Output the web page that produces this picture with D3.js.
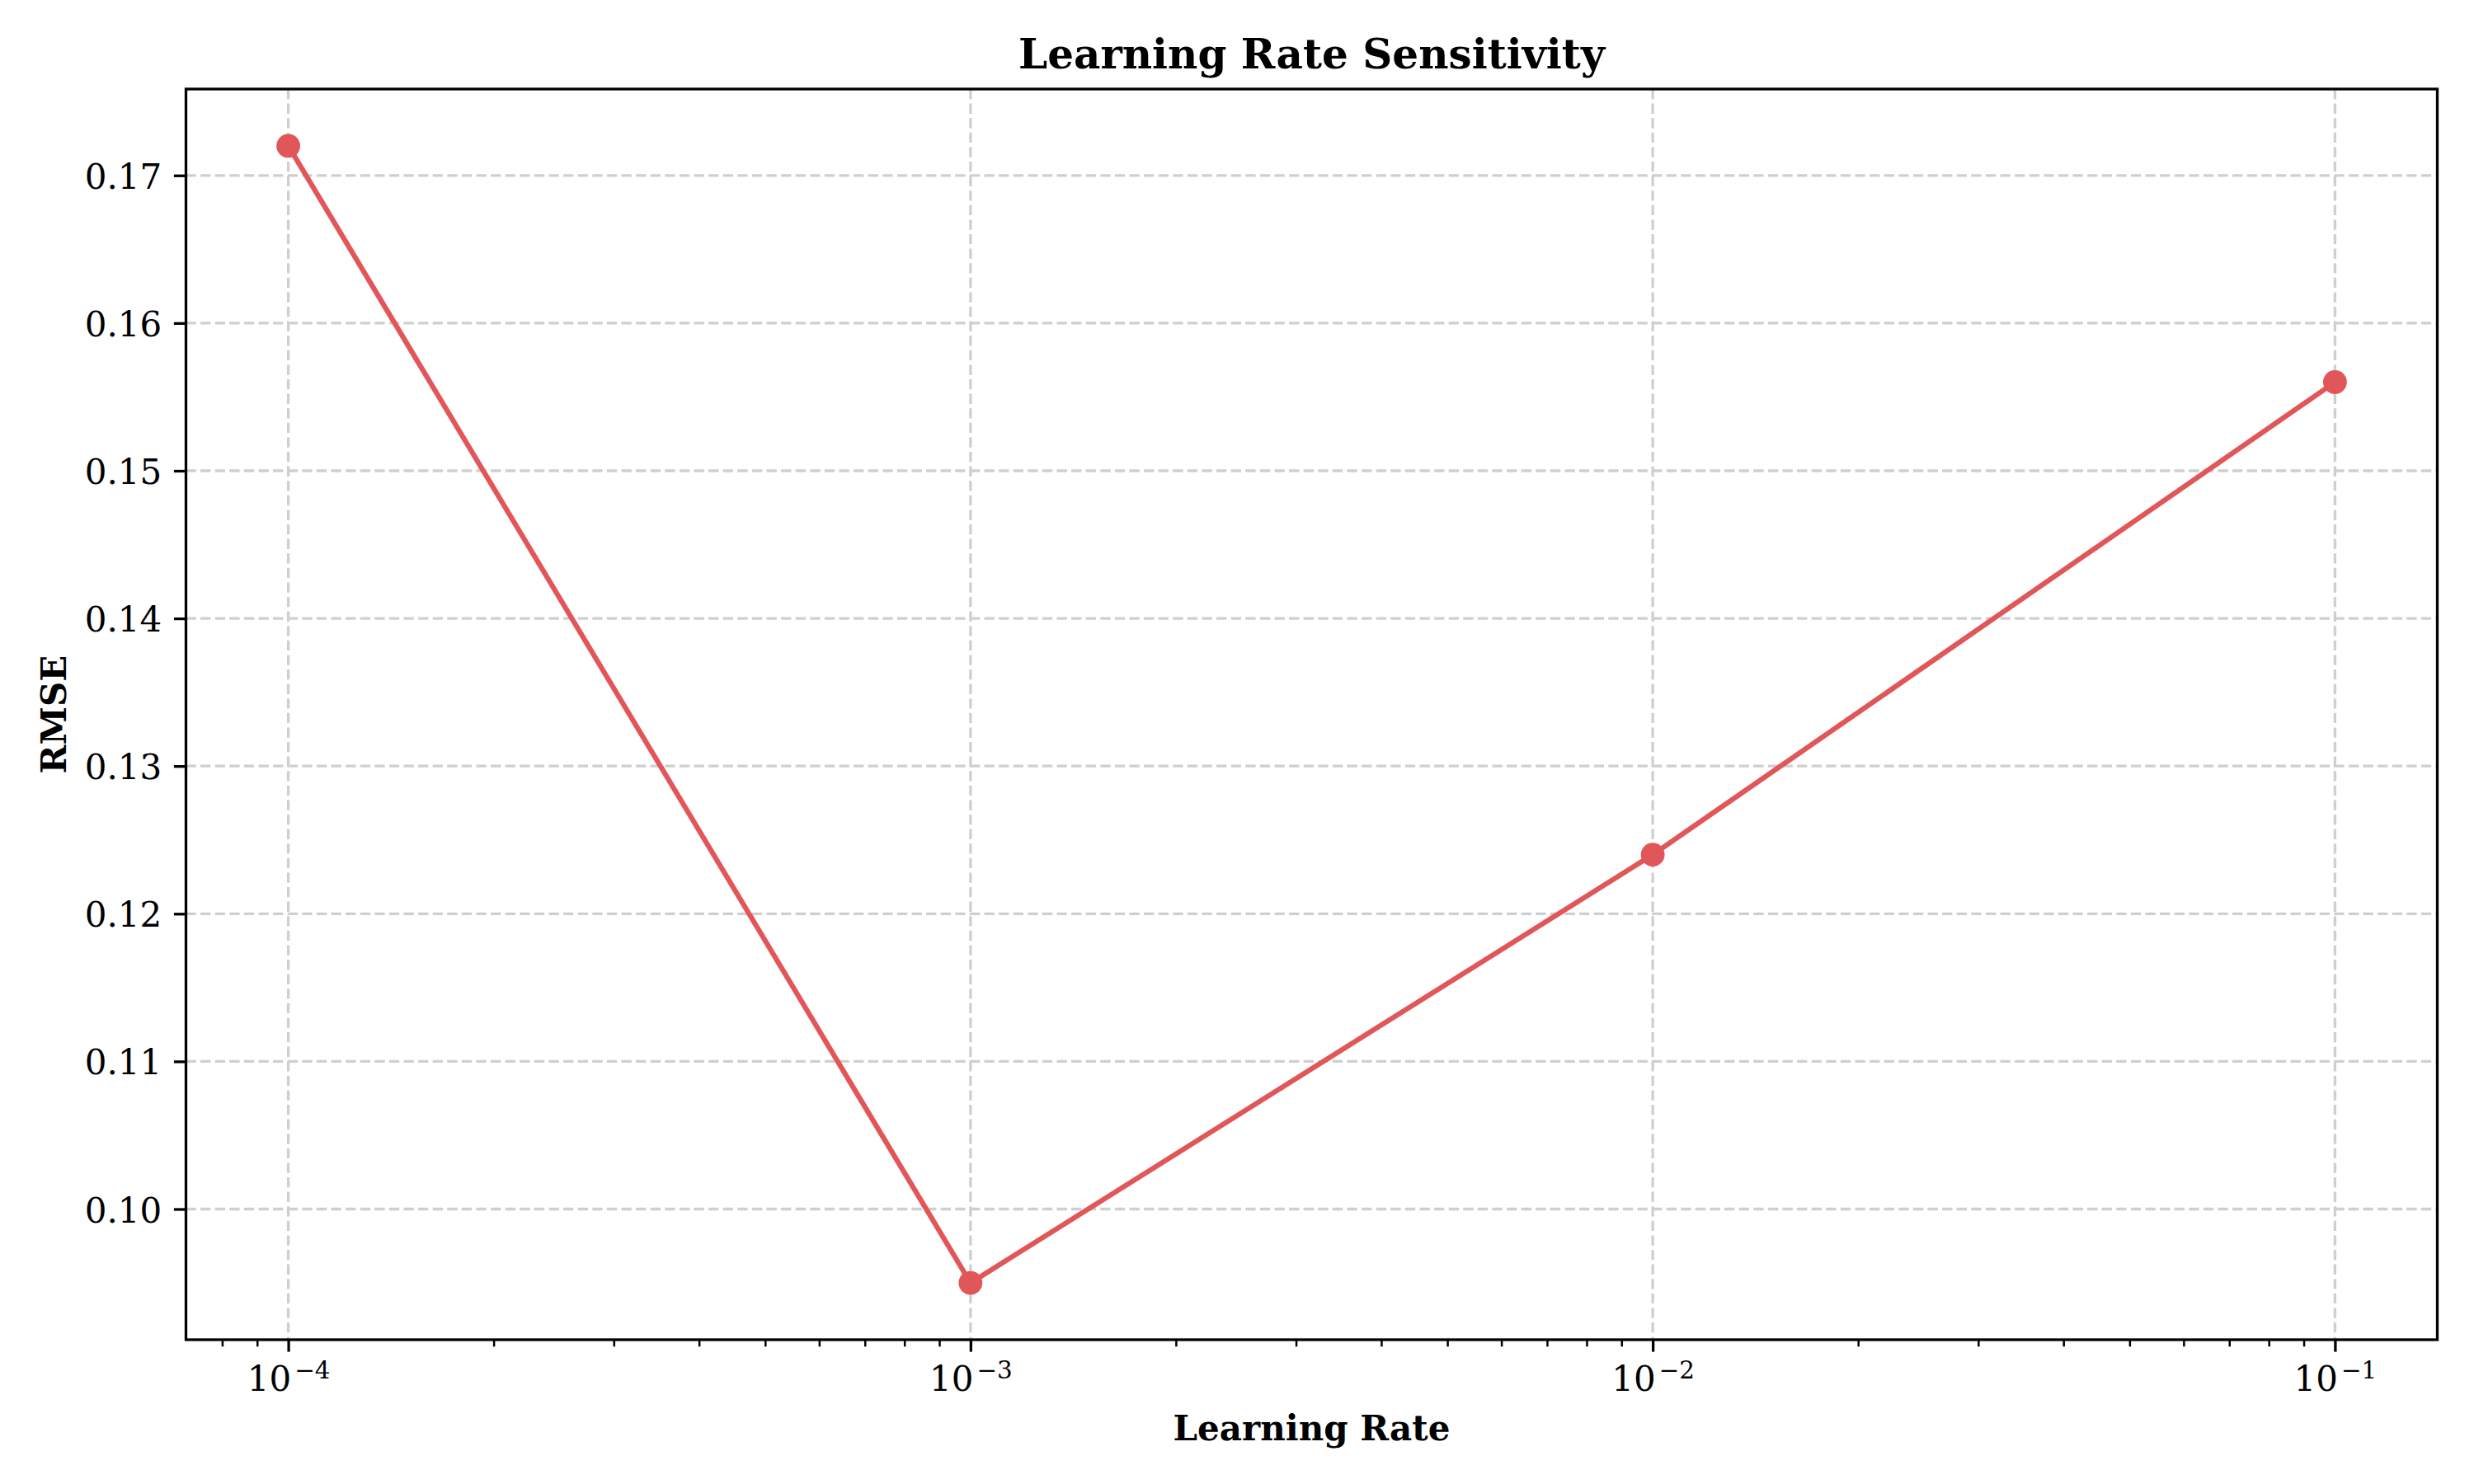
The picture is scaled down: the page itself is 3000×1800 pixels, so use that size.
<!DOCTYPE html>
<html>
<head>
<meta charset="utf-8">
<script src="https://cdn.jsdelivr.net/npm/d3@7"></script>
<style>
  html, body { margin: 0; padding: 0; background: #ffffff; }
  svg { display: block; }
  text { font-family: "DejaVu Serif", serif; fill: #000; }
</style>
</head>
<body>
<svg id="chart" width="3000" height="1800"></svg>
<script>
// ---- data ----
const learningRates = [1e-4, 1e-3, 1e-2, 1e-1];
const rmseValues = [0.172, 0.095, 0.124, 0.156];
const xTickValues = [1e-4, 1e-3, 1e-2, 1e-1];
const xTickExponents = ["−4", "−3", "−2", "−1"];
const yTickValues = [0.10, 0.11, 0.12, 0.13, 0.14, 0.15, 0.16, 0.17];
const titleText = "Learning Rate Sensitivity";
const xLabelText = "Learning Rate";
const yLabelText = "RMSE";

// ---- layout ----
const W = 3000, H = 1800;
const plot = { left: 225.5, right: 2955.5, top: 108, bottom: 1625 };
const lineColor = "#E15759";
const gridColor = "#cfcfcf";

const svg = d3.select("#chart");
svg.append("rect").attr("width", W).attr("height", H).attr("fill", "#fff");

// scales with matplotlib-like 5% margins
const lx = learningRates.map(Math.log10);
const lmin = d3.min(lx), lmax = d3.max(lx), lr = lmax - lmin;
const x = d3.scaleLog()
  .domain([Math.pow(10, lmin - 0.05 * lr), Math.pow(10, lmax + 0.05 * lr)])
  .range([plot.left, plot.right]);
const ymin = d3.min(rmseValues), ymax = d3.max(rmseValues), yr = ymax - ymin;
const y = d3.scaleLinear()
  .domain([ymin - 0.05 * yr, ymax + 0.05 * yr])
  .range([plot.bottom, plot.top]);

// minor ticks
const minorTicks = [];
const [d0, d1] = x.domain();
for (let e = Math.floor(Math.log10(d0)); e <= Math.ceil(Math.log10(d1)); e++) {
  for (let m = 2; m <= 9; m++) {
    const v = m * Math.pow(10, e);
    if (v >= d0 && v <= d1) minorTicks.push(v);
  }
}

// grid
const grid = svg.append("g");
grid.selectAll("line.vg").data(xTickValues).join("line")
  .attr("x1", d => x(d)).attr("x2", d => x(d))
  .attr("y1", plot.top).attr("y2", plot.bottom)
  .attr("stroke", gridColor).attr("stroke-width", 3.3)
  .attr("stroke-dasharray", "12.3,5.3");
grid.selectAll("line.hg").data(yTickValues).join("line")
  .attr("x1", plot.left).attr("x2", plot.right)
  .attr("y1", d => y(d)).attr("y2", d => y(d))
  .attr("stroke", gridColor).attr("stroke-width", 3.3)
  .attr("stroke-dasharray", "12.3,5.3");

// data line + markers
const pts = learningRates.map((d, i) => [d, rmseValues[i]]);
svg.append("path")
  .datum(pts)
  .attr("fill", "none")
  .attr("stroke", lineColor)
  .attr("stroke-width", 6.2)
  .attr("stroke-linejoin", "round")
  .attr("d", d3.line().x(d => x(d[0])).y(d => y(d[1])));
svg.selectAll("circle.pt").data(pts).join("circle")
  .attr("cx", d => x(d[0])).attr("cy", d => y(d[1]))
  .attr("r", 14.4).attr("fill", lineColor);

// x axis major
const xAxis = svg.append("g")
  .attr("transform", `translate(0,${plot.bottom})`)
  .call(d3.axisBottom(x).tickValues(xTickValues).tickSize(14.6).tickFormat(() => ""));
xAxis.select(".domain").remove();
xAxis.selectAll(".tick line").attr("stroke", "#000").attr("stroke-width", 3.3);
xAxis.selectAll(".tick text").each(function(d, i) {
  const t = d3.select(this);
  t.text(null).attr("y", 61.5).attr("dy", null)
    .attr("font-size", 42).attr("text-anchor", "middle");
  t.append("tspan").text("10");
  t.append("tspan").attr("font-size", 29.4).attr("dy", -15).attr("dx", 4)
    .text(xTickExponents[i]);
});

// x axis minor
const xMinor = svg.append("g")
  .attr("transform", `translate(0,${plot.bottom})`)
  .call(d3.axisBottom(x).tickValues(minorTicks).tickSize(8.3).tickFormat(() => ""));
xMinor.select(".domain").remove();
xMinor.selectAll(".tick line").attr("stroke", "#000").attr("stroke-width", 2.5);

// y axis
const yAxis = svg.append("g")
  .attr("transform", `translate(${plot.left},0)`)
  .call(d3.axisLeft(y).tickValues(yTickValues).tickSize(14.6).tickPadding(14.6).tickFormat(d3.format(".2f")));
yAxis.select(".domain").remove();
yAxis.selectAll(".tick line").attr("stroke", "#000").attr("stroke-width", 3.3);
yAxis.selectAll(".tick text").attr("font-size", 42).attr("dy", "0.37em")
  .attr("font-family", "DejaVu Serif");

// frame
svg.append("rect")
  .attr("x", plot.left).attr("y", plot.top)
  .attr("width", plot.right - plot.left).attr("height", plot.bottom - plot.top)
  .attr("fill", "none").attr("stroke", "#000").attr("stroke-width", 3.3);

// labels
const cx = (plot.left + plot.right) / 2, cy = (plot.top + plot.bottom) / 2;
svg.append("text").attr("x", cx).attr("y", 82.7)
  .attr("text-anchor", "middle").attr("font-size", 50).attr("font-weight", "bold")
  .text(titleText);
svg.append("text").attr("x", cx).attr("y", 1747)
  .attr("text-anchor", "middle").attr("font-size", 42).attr("font-weight", "bold")
  .text(xLabelText);
svg.append("text")
  .attr("transform", `translate(80,${cy}) rotate(-90)`)
  .attr("text-anchor", "middle").attr("font-size", 42).attr("font-weight", "bold")
  .text(yLabelText);
</script>
</body>
</html>
